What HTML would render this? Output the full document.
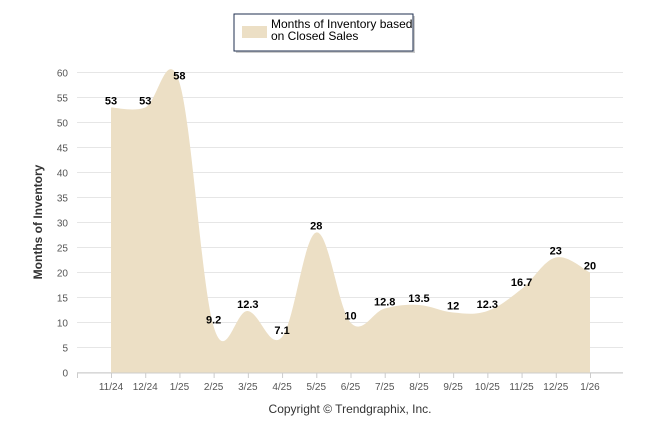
<!DOCTYPE html>
<html><head><meta charset="utf-8"><style>
body{margin:0;background:#fff;width:646px;height:434px;overflow:hidden;font-family:"Liberation Sans",Arial,sans-serif}
</style></head><body>
<svg id="chart" width="646" height="434" xmlns="http://www.w3.org/2000/svg" font-family="Liberation Sans, Arial, sans-serif">
<g>
<rect x="236" y="16" width="179" height="37" fill="#999" opacity="0.5"/>
<rect x="234" y="14" width="179" height="37" fill="#fff" stroke="#1f2f4f" stroke-width="1"/>
<rect x="242" y="26" width="25" height="12" fill="#ecdfc5"/>
<text x="271" y="28" font-size="12" fill="#000">Months of Inventory based</text>
<text x="271" y="40" font-size="12" fill="#000">on Closed Sales</text>
</g>
<g id="grid"></g>
<g id="area"></g>
<g id="labels"></g>
<g id="axes"></g>
<text transform="translate(42,222) rotate(-90)" text-anchor="middle" font-size="12" font-weight="bold" fill="#333">Months of Inventory</text>
<text x="350" y="413" text-anchor="middle" font-size="12" fill="#333">Copyright © Trendgraphix, Inc.</text>
</svg>
<script>
const categories=["11/24","12/24","1/25","2/25","3/25","4/25","5/25","6/25","7/25","8/25","9/25","10/25","11/25","12/25","1/26"];
const values=[53,53,58,9.2,12.3,7.1,28,10,12.8,13.5,12,12.3,16.7,23,20];
const yTicks=[0,5,10,15,20,25,30,35,40,45,50,55,60];
const NS="http://www.w3.org/2000/svg";
const X0=111,DX=(590-111)/14,left=77,right=623;
const x=i=>X0+i*DX, y=v=>372.5-v*5;
function mk(t,a,p){const e=document.createElementNS(NS,t);for(const k in a)e.setAttribute(k,a[k]);p.appendChild(e);return e;}
const grid=document.getElementById('grid'),axes=document.getElementById('axes');
yTicks.forEach(t=>{
 const l=mk('line',{x1:left,x2:right,y1:y(t),y2:y(t),stroke:'#e6e6e6'},grid);
 
 
 const tx=mk('text',{x:68,y:y(t)+4,'text-anchor':'end','font-size':10,fill:'#555'},axes);
 tx.textContent=t;
 
 
});
mk('line',{x1:left,x2:right,y1:373,y2:373,stroke:'#ccc'},axes);
mk('line',{x1:left+0.5,x2:left+0.5,y1:373,y2:378,stroke:'#ccc'},axes);
categories.forEach((c,i)=>{
 mk('line',{x1:x(i)+0.5,x2:x(i)+0.5,y1:373,y2:378,stroke:'#ccc'},axes);
 const t=mk('text',{x:x(i),y:390,'text-anchor':'middle','font-size':10,fill:'#555'},axes);
 t.textContent=c;
 
 
});
const pts=values.map((v,i)=>[x(i),y(v)]);
let d=`M${pts[0][0]},${y(0)} L${pts[0][0]},${pts[0][1]}`;
for(let i=0;i<pts.length-1;i++){
 const p0=pts[Math.max(0,i-1)],p1=pts[i],p2=pts[i+1],p3=pts[Math.min(pts.length-1,i+2)];
 const k=0.18;
 const c1=[p1[0]+(p2[0]-p0[0])*k,p1[1]+(p2[1]-p0[1])*k];
 const c2=[p2[0]-(p3[0]-p1[0])*k,p2[1]-(p3[1]-p1[1])*k];
 d+=` C${c1[0]},${c1[1]} ${c2[0]},${c2[1]} ${p2[0]},${p2[1]}`;
}
d+=` L${pts[pts.length-1][0]},${y(0)} Z`;
const a=mk('path',{d:d,fill:'#ecdfc5'},document.getElementById('area'));


const lab=document.getElementById('labels');
values.forEach((v,i)=>{
 const t=mk('text',{x:x(i),y:y(v)-3,'text-anchor':'middle','font-size':11,'font-weight':'bold',fill:'#000'},lab);
 t.textContent=v;
 
 
});
</script>
</body></html>
